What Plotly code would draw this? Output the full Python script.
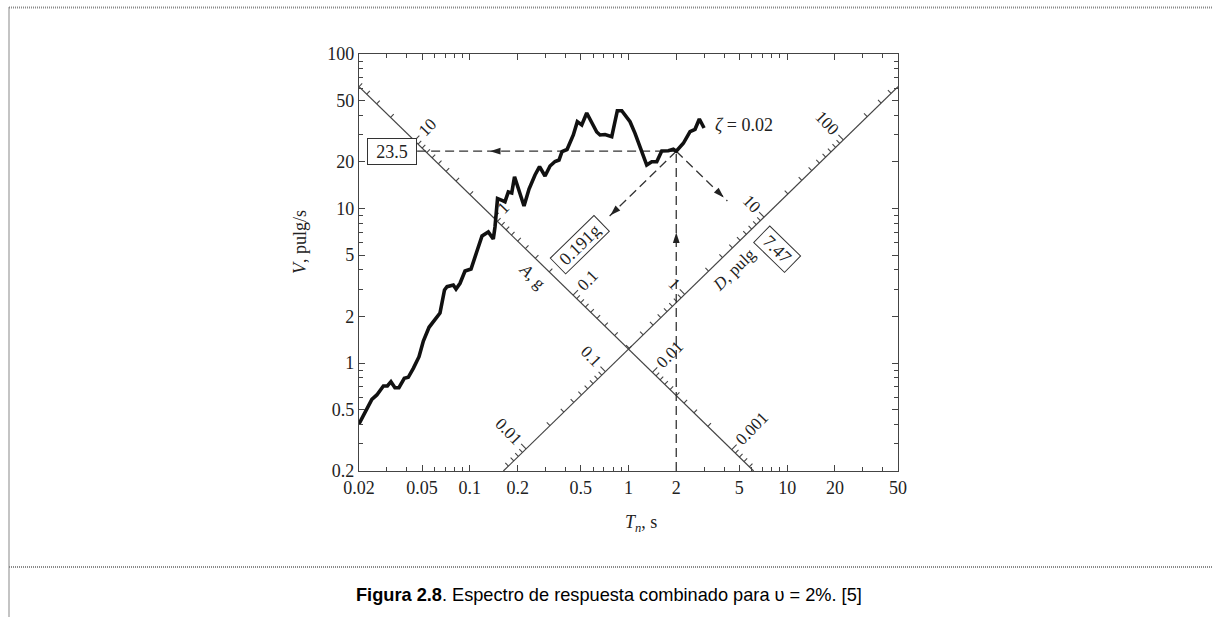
import math
import plotly.graph_objects as go

# ---------------- values ----------------
T_curve = [0.0200, 0.0213, 0.0241, 0.0259, 0.0285, 0.0302, 0.0318, 0.0337, 0.0357, 0.0386,
           0.0409, 0.0440, 0.0478, 0.0509, 0.0553, 0.0648, 0.0692, 0.0718, 0.0786, 0.0818,
           0.0867, 0.0932, 0.1017, 0.1109, 0.1193, 0.1307, 0.1405, 0.1440, 0.1494, 0.1594,
           0.1665, 0.1747, 0.1836, 0.1912, 0.2041, 0.2194, 0.2360, 0.2574, 0.2749, 0.2977,
           0.3201, 0.3442, 0.3648, 0.3811, 0.4097, 0.4489, 0.4757, 0.5073, 0.5453, 0.5864,
           0.6306, 0.6615, 0.7114, 0.7841, 0.8225, 0.8504, 0.9066, 0.9748, 1.0226, 1.0996,
           1.1535, 1.2119, 1.3032, 1.4012, 1.5070, 1.6203, 1.7833, 1.9172, 2.0000, 2.2170,
           2.4434, 2.6273, 2.7962, 2.9947]
V_curve = [0.403, 0.461, 0.582, 0.621, 0.710, 0.710, 0.757, 0.692, 0.692, 0.796,
           0.808, 0.924, 1.099, 1.388, 1.703, 2.106, 2.968, 3.118, 3.198, 3.013,
           3.281, 3.940, 4.058, 5.307, 6.637, 7.045, 6.348, 7.592, 11.6, 11.3,
           11.07, 12.79, 12.6, 16.06, 12.98, 10.38, 13.37, 16.48, 18.65, 16.23,
           18.84, 20.15, 20.60, 23.38, 24.09, 29.91, 36.47, 34.72, 41.51, 35.61,
           31.27, 29.91, 30.13, 29.15, 36.47, 42.95, 42.95, 38.36, 36.47, 30.67,
           27.06, 23.91, 19.12, 20.09, 20.09, 23.56, 23.66, 24.16, 23.5, 26.42,
           31.41, 32.55, 37.96, 33.19]

x_tickvals = [0.02, 0.05, 0.1, 0.2, 0.5, 1, 2, 5, 10, 20, 50]
x_ticktext = ["0.02", "0.05", "0.1", "0.2", "0.5", "1", "2", "5", "10", "20", "50"]
y_tickvals = [0.2, 0.5, 1, 2, 5, 10, 20, 50, 100]
y_ticktext = ["0.2", "0.5", "1", "2", "5", "10", "20", "50", "100"]

A_labels = [10, 1, 0.1, 0.01, 0.001]          # g
A_labeltext = ["10", "1", "0.1", "0.01", "0.001"]
D_labels = [0.01, 0.1, 1, 10, 100]            # pulg
D_labeltext = ["0.01", "0.1", "1", "10", "100"]

T_read = 2.0
V_read = 23.5
A_read = 0.191
D_read = 7.47
V_read_text = "23.5"
A_read_text = "0.191g"
D_read_text = "7.47"
zeta_text = "<i>ζ</i> = 0.02"

C_AX = 1.23            # diagonal axes: V*T = C_AX (A scale), V/T = C_AX (D scale)
G_IN = 386.0           # g in pulg/s^2
T_hline_end = 0.0465   # left end of horizontal dashed line (at the 23.5 box)
T_arrowA_end = 0.73    # end of dashed line towards A scale
T_arrowD_end = 4.2     # end of dashed line towards D scale
T_arrow_h = 0.134      # arrow on horizontal dashed line
V_arrow_v = 7.0        # arrow on vertical dashed line
A_name_at = 0.24       # where "A, g" sits along the A scale
D_name_at = 3.0        # where "D, pulg" sits along the D scale

# ---------------- geometry helpers ----------------
W, H = 1213, 617
ML, MR, MT, MB = 359, 315, 54, 146
PW, PH = W - ML - MR, H - MT - MB
XR = [math.log10(0.02), math.log10(50)]
YR = [math.log10(0.2), math.log10(100)]
KX = PW / (XR[1] - XR[0])
KY = PH / (YR[1] - YR[0])


def shift(T, V, dx, dy):
    """move a data point by dx px right and dy px down"""
    return T * 10 ** (dx / KX), V * 10 ** (-dy / KY)


NRM = math.hypot(KX, KY)
uA = (KX / NRM, KY / NRM)        # along A scale, down-right
uD = (KX / NRM, -KY / NRM)       # along D scale, up-right
nA = (KY / NRM, -KX / NRM)       # upper-right normal of A scale
nD = (-KY / NRM, -KX / NRM)      # upper-left normal of D scale
ANG = math.degrees(math.atan2(KY, KX))


def A_pos(a):
    T = math.sqrt(2 * math.pi * C_AX / (G_IN * a))
    return T, C_AX / T


def D_pos(d):
    T = math.sqrt(2 * math.pi * d / C_AX)
    return T, C_AX * T


def inside(T, V):
    return 0.02 * 1.0001 < T < 50 / 1.0001 and 0.2 * 1.0001 < V < 100 / 1.0001


def is_major(v):
    lv = math.log10(v)
    return abs(lv - round(lv)) < 1e-9


def text_w(s, fs):
    return sum(0.25 * fs if ch == '.' else 0.5 * fs for ch in s)


MAJ, MIN = 7.0, 4.5
AX_COL = "#444"
TXT_COL = "#222"
SERIF = "Liberation Serif, Times New Roman, serif"

fig = go.Figure()

# diagonal scale lines
TA = [0.02, C_AX / 0.2]
fig.add_trace(go.Scatter(x=TA, y=[C_AX / t for t in TA], mode="lines",
                         line=dict(color=AX_COL, width=1.2), hoverinfo="skip"))
TD = [0.2 / C_AX, 50]
fig.add_trace(go.Scatter(x=TD, y=[C_AX * t for t in TD], mode="lines",
                         line=dict(color=AX_COL, width=1.2), hoverinfo="skip"))

# diagonal scale ticks
vals = [m * 10 ** k for k in range(-4, 4) for m in range(1, 10)]
tx, ty = [], []
for pos_fn, nrm in ((A_pos, nA), (D_pos, nD)):
    for v in vals:
        T, V = pos_fn(v)
        if not inside(T, V):
            continue
        L = MAJ if is_major(v) else MIN
        T2, V2 = shift(T, V, nrm[0] * L, nrm[1] * L)
        tx += [T, T2, None]
        ty += [V, V2, None]
fig.add_trace(go.Scatter(x=tx, y=ty, mode="lines", line=dict(color=AX_COL, width=1.1),
                         hoverinfo="skip"))

# dashed reading lines
DASH = dict(color="#333", width=1.3, dash="9px,5px")
fig.add_trace(go.Scatter(x=[T_hline_end, T_read], y=[V_read, V_read], mode="lines",
                         line=DASH, hoverinfo="skip"))
fig.add_trace(go.Scatter(x=[T_read, T_read], y=[0.2, V_read], mode="lines",
                         line=DASH, hoverinfo="skip"))
fig.add_trace(go.Scatter(x=[T_read, T_arrowA_end],
                         y=[V_read, V_read * T_arrowA_end / T_read], mode="lines",
                         line=DASH, hoverinfo="skip"))
fig.add_trace(go.Scatter(x=[T_read, T_arrowD_end],
                         y=[V_read, V_read * T_read / T_arrowD_end], mode="lines",
                         line=DASH, hoverinfo="skip"))

# arrow heads
ea = shift(T_arrowA_end, V_read * T_arrowA_end / T_read, 5 * uD[0], 5 * uD[1])
ed = shift(T_arrowD_end, V_read * T_read / T_arrowD_end, -5 * uA[0], -5 * uA[1])
arr_x = [T_arrow_h, T_read, ea[0], ed[0]]
arr_y = [V_read, V_arrow_v, ea[1], ed[1]]
ang_dl = math.degrees(math.atan2(-uD[0], uD[1]))
ang_dr = math.degrees(math.atan2(uA[0], -uA[1]))
fig.add_trace(go.Scatter(x=arr_x, y=arr_y, mode="markers",
                         marker=dict(symbol="arrow", size=11, color="#222",
                                     angle=[-90, 0, ang_dl, ang_dr], line=dict(width=0)),
                         hoverinfo="skip"))

# response spectrum
fig.add_trace(go.Scatter(x=T_curve, y=V_curve, mode="lines",
                         line=dict(color="#111", width=3.6), hoverinfo="skip"))

ann = []
FS_D = 17
# diagonal scale labels
for v, s in zip(A_labels, A_labeltext):
    T, V = A_pos(v)
    off = MAJ + 3 + text_w(s, FS_D) / 2
    T2, V2 = shift(T, V, nA[0] * off, nA[1] * off)
    ann.append(dict(x=math.log10(T2), y=math.log10(V2), text=s, showarrow=False,
                    textangle=ANG - 90, font=dict(size=FS_D, family=SERIF, color=TXT_COL),
                    xanchor="center", yanchor="middle"))
for v, s in zip(D_labels, D_labeltext):
    T, V = D_pos(v)
    off = MAJ + 3 + text_w(s, FS_D) / 2
    T2, V2 = shift(T, V, nD[0] * off, nD[1] * off)
    ann.append(dict(x=math.log10(T2), y=math.log10(V2), text=s, showarrow=False,
                    textangle=90 - ANG, font=dict(size=FS_D, family=SERIF, color=TXT_COL),
                    xanchor="center", yanchor="middle"))

# scale names
T, V = A_pos(A_name_at)
T2, V2 = shift(T, V, -nA[0] * 15, -nA[1] * 15)
ann.append(dict(x=math.log10(T2), y=math.log10(V2), text="<i>A</i>, g", showarrow=False,
                textangle=ANG, xanchor="center", yanchor="middle",
                font=dict(size=FS_D, family=SERIF, color=TXT_COL)))
T, V = D_pos(D_name_at)
T2, V2 = shift(T, V, -nD[0] * 17, -nD[1] * 17)
ann.append(dict(x=math.log10(T2), y=math.log10(V2), text="<i>D</i>, pulg", showarrow=False,
                textangle=-ANG, xanchor="center", yanchor="middle",
                font=dict(size=FS_D, family=SERIF, color=TXT_COL)))

# boxed readings
BOX = dict(showarrow=False, bordercolor="#333", borderwidth=1, borderpad=2,
           bgcolor="white", font=dict(size=18, family=SERIF, color=TXT_COL))
ann.append(dict(x=math.log10(T_hline_end), y=math.log10(V_read), text=V_read_text,
                xanchor="right", yanchor="middle", width=44, height=21, **BOX))
T, V = A_pos(A_read)
T2, V2 = shift(T, V, uD[0] * 41, uD[1] * 41)
ann.append(dict(x=math.log10(T2), y=math.log10(V2), text=A_read_text, textangle=-ANG,
                xanchor="center", yanchor="middle", width=56, height=17, **BOX))
T, V = D_pos(D_read)
T2, V2 = shift(T, V, uA[0] * 32, uA[1] * 32)
ann.append(dict(x=math.log10(T2), y=math.log10(V2), text=D_read_text, textangle=ANG,
                xanchor="center", yanchor="middle", width=38, height=18, **BOX))

# damping label
T2, V2 = shift(T_curve[-1], V_curve[-1], 9, -3)
ann.append(dict(x=math.log10(T2), y=math.log10(V2), text=zeta_text, showarrow=False,
                xanchor="left", yanchor="middle",
                font=dict(size=18, family=SERIF, color=TXT_COL)))


def pxx(px):
    return (px - ML) / PW


def pxy(py):
    return (H - MB - py) / PH


# axis titles
ann.append(dict(xref="paper", yref="paper", x=pxx(300), y=pxy(242),
                text="<i>V</i>, pulg/s", textangle=-90, showarrow=False,
                xanchor="center", yanchor="middle",
                font=dict(size=18, family=SERIF, color=TXT_COL)))
ann.append(dict(xref="paper", yref="paper", x=pxx(641), y=pxy(523),
                text="<i>T<sub>n</sub></i>, s", showarrow=False,
                xanchor="center", yanchor="middle",
                font=dict(size=18, family=SERIF, color=TXT_COL)))
# caption
ann.append(dict(xref="paper", yref="paper", x=pxx(609), y=pxy(595),
                text="<b>Figura 2.8</b>. Espectro de respuesta combinado para υ = 2%. [5]",
                showarrow=False, xanchor="center", yanchor="middle",
                font=dict(size=18.2, family="Liberation Sans, Arial, sans-serif", color="#000")))

# page frame (dotted)
FR = dict(color="#8a8a8a", width=2, dash="1px,1px")
shapes = [
    dict(type="line", xref="paper", yref="paper", x0=pxx(9), x1=pxx(9), y0=pxy(7.5), y1=pxy(617), line=FR),
    dict(type="line", xref="paper", yref="paper", x0=pxx(9), x1=pxx(1213), y0=pxy(7.5), y1=pxy(7.5), line=FR),
    dict(type="line", xref="paper", yref="paper", x0=pxx(9), x1=pxx(1213), y0=pxy(567), y1=pxy(567), line=FR),
]

x_minor = [m * 10 ** k for k in range(-2, 2) for m in range(1, 10) if 0.02 <= m * 10 ** k <= 50]
y_minor = [m * 10 ** k for k in range(-1, 3) for m in range(1, 10) if 0.2 <= m * 10 ** k <= 100]

AX = dict(type="log", tickmode="array", ticks="inside", ticklen=6, tickwidth=1.2,
          tickcolor=AX_COL, showline=True, linecolor=AX_COL, linewidth=1.3,
          mirror="ticks", showgrid=False, zeroline=False,
          tickfont=dict(size=18, family=SERIF, color=TXT_COL))
fig.update_xaxes(range=XR, tickvals=x_tickvals, ticktext=x_ticktext,
                 minor=dict(tickmode="array", tickvals=x_minor, ticks="inside", ticklen=4,
                            tickwidth=1.1, tickcolor=AX_COL, showgrid=False), **AX)
fig.update_yaxes(range=YR, tickvals=y_tickvals, ticktext=y_ticktext,
                 minor=dict(tickmode="array", tickvals=y_minor, ticks="inside", ticklen=4,
                            tickwidth=1.1, tickcolor=AX_COL, showgrid=False), **AX)

fig.update_layout(width=W, height=H, margin=dict(l=ML, r=MR, t=MT, b=MB, pad=0),
                  plot_bgcolor="white", paper_bgcolor="white", showlegend=False,
                  annotations=ann, shapes=shapes,
                  font=dict(family=SERIF, size=18, color=TXT_COL))

fig.write_html("out.html")
